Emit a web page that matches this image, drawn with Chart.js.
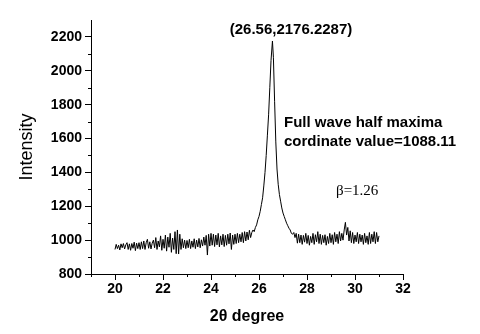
<!DOCTYPE html>
<html lang="en">
<head>
  <meta charset="UTF-8">
  <title>XRD peak</title>
  <script src="https://cdn.jsdelivr.net/npm/chart.js"></script>
  <style>
    html, body { margin: 0; padding: 0; background: #fff; }
    #wrap { width: 480px; height: 334px; }
  </style>
</head>
<body>
  <div id="wrap"><canvas id="chart" width="480" height="334"></canvas></div>
  <script>
    // 2-theta positions (degrees)
    const twoTheta = [
      20.00, 20.05, 20.10, 20.15, 20.20, 20.25, 20.30, 20.35, 20.40, 20.45,
      20.50, 20.55, 20.60, 20.65, 20.70, 20.75, 20.80, 20.85, 20.90, 20.95,
      21.00, 21.05, 21.10, 21.15, 21.20, 21.25, 21.30, 21.35, 21.40, 21.45,
      21.50, 21.55, 21.60, 21.65, 21.70, 21.75, 21.80, 21.85, 21.90, 21.95,
      22.00, 22.05, 22.10, 22.15, 22.20, 22.25, 22.30, 22.35, 22.40, 22.45,
      22.50, 22.55, 22.60, 22.65, 22.70, 22.75, 22.80, 22.85, 22.90, 22.95,
      23.00, 23.05, 23.10, 23.15, 23.20, 23.25, 23.30, 23.35, 23.40, 23.45,
      23.50, 23.55, 23.60, 23.65, 23.70, 23.75, 23.80, 23.85, 23.90, 23.95,
      24.00, 24.05, 24.10, 24.15, 24.20, 24.25, 24.30, 24.35, 24.40, 24.45,
      24.50, 24.55, 24.60, 24.65, 24.70, 24.75, 24.80, 24.85, 24.90, 24.95,
      25.00, 25.05, 25.10, 25.15, 25.20, 25.25, 25.30, 25.35, 25.40, 25.45,
      25.50, 25.55, 25.60, 25.65, 25.70, 25.75, 25.80, 25.85, 25.90, 25.95,
      26.00, 26.05, 26.10, 26.15, 26.20, 26.25, 26.30, 26.35, 26.40, 26.45,
      26.50, 26.56, 26.60, 26.65, 26.70, 26.75, 26.80, 26.85, 26.90, 26.95,
      27.00, 27.05, 27.10, 27.15, 27.20, 27.25, 27.30, 27.35, 27.40, 27.45,
      27.50, 27.55, 27.60, 27.65, 27.70, 27.75, 27.80, 27.85, 27.90, 27.95,
      28.00, 28.05, 28.10, 28.15, 28.20, 28.25, 28.30, 28.35, 28.40, 28.45,
      28.50, 28.55, 28.60, 28.65, 28.70, 28.75, 28.80, 28.85, 28.90, 28.95,
      29.00, 29.05, 29.10, 29.15, 29.20, 29.25, 29.30, 29.35, 29.40, 29.45,
      29.50, 29.55, 29.60, 29.65, 29.70, 29.75, 29.80, 29.85, 29.90, 29.95,
      30.00, 30.05, 30.10, 30.15, 30.20, 30.25, 30.30, 30.35, 30.40, 30.45,
      30.50, 30.55, 30.60, 30.65, 30.70, 30.75, 30.80, 30.85, 30.90, 30.95,
      31.00
    ];

    const intensity = [
      945, 975, 950, 970, 942, 978, 955, 980, 948, 972,
      985, 945, 978, 940, 980, 952, 988, 938, 982, 950,
      985, 945, 990, 950, 995, 945, 985, 1005, 952, 990,
      948, 982, 1000, 955, 1015, 945, 995, 960, 1025, 940,
      1005, 952, 1030, 935, 1018, 958, 1040, 928, 1012, 945,
      1050, 920, 1060, 918, 1035, 945, 1008, 955, 1000, 950,
      998, 955, 1005, 950, 995, 958, 1008, 950, 1000, 960,
      1010, 955, 1002, 965, 1018, 970, 1028, 912, 1035, 965,
      1040, 970, 1035, 962, 1030, 972, 1040, 960, 1025, 972,
      1035, 962, 1028, 970, 1035, 978, 1042, 945, 1030, 975,
      1035, 980, 1040, 985, 1035, 990, 1045, 985, 1050, 995,
      1048, 1002, 1058, 1015, 1045, 1060, 1050, 1075, 1090, 1120,
      1140, 1170, 1210, 1250, 1320, 1400, 1500, 1620, 1740, 1900,
      2060, 2176, 2080, 1820, 1580, 1420, 1330, 1270, 1230, 1190,
      1160, 1140, 1120, 1100, 1085, 1070, 1060, 1040, 1035, 1045,
      1015, 1040, 982, 1035, 985, 1030, 975, 1028, 988, 1040,
      980, 1028, 970, 1022, 985, 1040, 975, 1032, 990, 1050,
      980, 1035, 975, 1028, 985, 1032, 970, 1022, 980, 1040,
      985, 1032, 975, 1045, 990, 1035, 980, 1050, 995, 1040,
      1000, 1060, 1105, 1030, 1075, 995, 1055, 985, 1045, 980,
      1030, 990, 1045, 980, 1035, 990, 1030, 975, 1040, 985,
      1025, 975, 1045, 980, 1035, 990, 1050, 980, 1045, 990,
      1025
    ];

    const xMinorTicks = [19, 21, 23, 25, 27, 29, 31];
    const yMinorTicks = [900, 1100, 1300, 1500, 1700, 1900, 2100];

    const notes = [
      { text: '(26.56,2176.2287)', x: 291, y: 30, font: 'bold 15px "Liberation Sans", Arial, sans-serif' },
      { text: 'Full wave half maxima', x: 284, y: 123, font: 'bold 15px "Liberation Sans", Arial, sans-serif', left: true },
      { text: 'cordinate value=1088.11', x: 284, y: 142, font: 'bold 15px "Liberation Sans", Arial, sans-serif', left: true },
      { text: 'β=1.26', x: 336, y: 191, font: '15px "Liberation Serif", "Times New Roman", serif', left: true }
    ];

    const points = twoTheta.map((x, i) => ({ x: x, y: intensity[i] }));

    const minorTicks = {
      id: 'minorTicks',
      afterDraw(chart) {
        const ctx = chart.ctx;
        const xs = chart.scales.x, ys = chart.scales.y;
        ctx.save();
        ctx.strokeStyle = '#000';
        ctx.lineWidth = 1;
        ctx.beginPath();
        xMinorTicks.forEach(v => {
          const px = Math.round(xs.getPixelForValue(v)) + 0.5;
          ctx.moveTo(px, xs.top);
          ctx.lineTo(px, xs.top + 3);
        });
        yMinorTicks.forEach(v => {
          const py = Math.round(ys.getPixelForValue(v)) + 0.5;
          ctx.moveTo(ys.right, py);
          ctx.lineTo(ys.right - 3, py);
        });
        ctx.stroke();

        ctx.fillStyle = '#000';
        ctx.textBaseline = 'middle';
        notes.forEach(n => {
          ctx.font = n.font;
          ctx.textAlign = n.left ? 'left' : 'center';
          ctx.fillText(n.text, n.x, n.y);
        });
        ctx.restore();
      }
    };

    new Chart(document.getElementById('chart'), {
      type: 'line',
      data: {
        datasets: [{
          data: points,
          borderColor: '#000',
          borderWidth: 1,
          pointRadius: 0,
          tension: 0,
          fill: false
        }]
      },
      options: {
        responsive: false,
        animation: false,
        layout: { padding: { top: 20, right: 77, left: 0, bottom: 0 } },
        plugins: { legend: { display: false }, tooltip: { enabled: false } },
        scales: {
          x: {
            type: 'linear',
            min: 19,
            max: 32,
            afterFit(scale) { scale.height = 60; },
            border: { display: true, color: '#000', width: 1 },
            grid: { drawOnChartArea: false, drawTicks: true, tickLength: 6, tickColor: '#000' },
            ticks: {
              stepSize: 2,
              includeBounds: false,
              padding: 1,
              color: '#000',
              callback: v => String(v),
              font: { family: '"Liberation Sans", Arial, sans-serif', size: 14, weight: 'bold' },
              maxRotation: 0
            },
            title: {
              display: true,
              text: '2θ degree',
              color: '#000',
              padding: 8,
              font: { family: '"Liberation Sans", Arial, sans-serif', size: 16, weight: 'bold' }
            }
          },
          y: {
            min: 800,
            max: 2300,
            afterFit(scale) { scale.width = 91; },
            border: { display: true, color: '#000', width: 1 },
            grid: { drawOnChartArea: false, drawTicks: true, tickLength: 6, tickColor: '#000' },
            ticks: {
              stepSize: 200,
              includeBounds: false,
              padding: 3,
              color: '#000',
              callback: v => String(v),
              font: { family: '"Liberation Sans", Arial, sans-serif', size: 14, weight: 'bold' }
            },
            title: {
              display: true,
              text: 'Intensity',
              color: '#000',
              padding: 16,
              font: { family: '"Liberation Sans", Arial, sans-serif', size: 18 }
            }
          }
        }
      },
      plugins: [minorTicks]
    });
  </script>
</body>
</html>
